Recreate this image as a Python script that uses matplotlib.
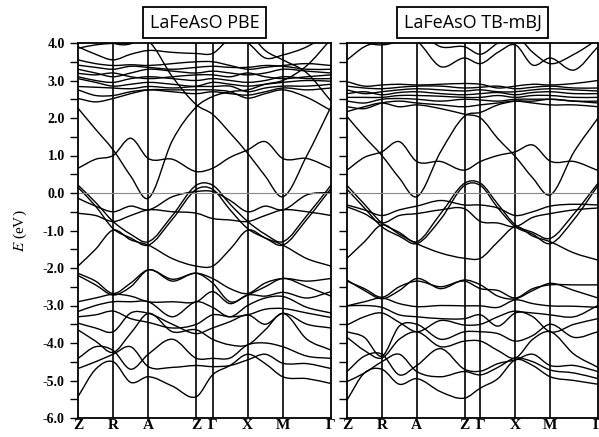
import numpy as np
import matplotlib
matplotlib.use("Agg")
import matplotlib.pyplot as plt
from matplotlib.path import Path
from matplotlib.patches import PathPatch
from matplotlib.ticker import MultipleLocator, FormatStrFormatter

plt.rcParams['font.family'] = ['Liberation Serif', 'DejaVu Serif']
plt.rcParams['mathtext.fontset'] = 'stix'

# high-symmetry path and sampled k positions (path distance units)
k_labels = ['Z', 'R', 'A', 'Z', 'Γ', 'X', 'M', 'Γ']
k_ticks = [0, 35, 70, 118, 134, 169, 204, 252]
k_pts = [0, 17.5, 35, 52.5, 70, 94, 118, 134, 151.5, 169, 186.5, 204, 228, 252]

#            Z     ZR    R     RA    A     AZ    Z     G     GX    X     XM    M     MG    G
pbe_bands = [
    [-5.43, -4.70, -4.50, -5.05, -4.90, -5.15, -5.43, -4.85, -4.60, -4.30, -4.55, -4.90, -4.95, -5.08],
    [-4.68, -4.50, -4.30, -4.10, -4.63, -4.65, -4.60, -4.63, -4.60, -4.45, -4.30, -4.54, -4.55, -4.68],
    [-4.41, -4.10, -4.20, -4.70, -4.30, -3.90, -4.41, -4.41, -4.40, -4.05, -4.00, -4.10, -4.35, -4.41],
    [-3.65, -3.95, -4.25, -3.74, -3.21, -3.70, -3.65, -3.90, -4.05, -4.05, -3.65, -3.21, -3.90, -4.19],
    [-3.47, -3.60, -3.70, -3.20, -3.21, -3.50, -3.75, -3.60, -3.43, -3.25, -3.50, -3.21, -3.50, -3.60],
    [-3.30, -3.25, -3.15, -3.35, -3.45, -3.60, -3.50, -3.25, -3.30, -3.25, -3.10, -3.08, -3.20, -3.32],
    [-3.16, -3.00, -2.90, -2.90, -2.90, -3.30, -2.90, -3.05, -3.30, -3.00, -2.80, -2.76, -3.05, -3.20],
    [-2.90, -2.80, -2.70, -2.75, -2.90, -2.90, -2.90, -2.63, -2.95, -2.72, -2.75, -2.65, -2.80, -2.63],
    [-2.20, -2.45, -2.72, -2.50, -2.05, -2.35, -2.14, -2.40, -2.90, -2.72, -2.50, -2.28, -2.50, -2.75],
    [-2.14, -2.35, -2.68, -2.40, -2.05, -2.30, -2.14, -2.28, -2.55, -2.68, -2.40, -2.28, -2.35, -2.28],
    [-1.95, -1.50, -0.99, -1.25, -1.39, -1.75, -1.95, -1.95, -1.50, -0.99, -1.20, -1.39, -1.75, -1.95],
    [-0.54, -0.60, -0.76, -0.60, -0.45, -0.50, -0.54, -0.68, -0.72, -0.76, -0.60, -0.45, -0.50, -0.60],
    [-0.14, -0.35, -0.50, -0.35, -0.45, -0.10, 0.04, 0.04, -0.20, -0.50, -0.35, -0.45, -0.05, 0.02],
    [0.15, -0.35, -0.95, -1.20, -1.39, -0.70, 0.10, 0.10, -0.45, -0.95, -1.20, -1.39, -0.70, 0.12],
    [0.21, -0.25, -0.76, -1.10, -1.30, -0.60, 0.21, 0.21, -0.30, -0.76, -1.10, -1.30, -0.60, 0.21],
    [0.66, 0.90, 1.00, 1.46, 0.92, 0.90, 0.57, 0.66, 0.95, 1.15, 1.37, 0.92, 0.92, 0.66],
    [2.26, 1.70, 1.15, 0.45, -0.14, 1.40, 2.30, 2.57, 2.70, 2.75, 2.90, 3.00, 3.40, 4.10],
    [3.86, 3.95, 3.99, 4.00, 4.05, 3.10, 2.35, 2.10, 1.60, 1.06, 0.45, -0.10, 1.00, 2.30],
    [2.52, 2.43, 2.52, 2.65, 2.75, 2.75, 2.75, 2.75, 2.70, 2.53, 2.65, 2.75, 2.55, 2.20],
    [2.75, 2.60, 2.60, 2.70, 2.75, 2.70, 2.65, 2.70, 2.65, 2.61, 2.70, 2.80, 2.75, 2.80],
    [2.84, 2.82, 2.80, 2.78, 2.84, 2.80, 2.84, 2.84, 2.85, 2.70, 2.80, 2.85, 2.85, 2.90],
    [3.05, 2.95, 2.85, 2.90, 2.95, 2.90, 2.85, 2.95, 2.90, 2.85, 2.90, 2.95, 3.00, 2.98],
    [3.10, 3.00, 2.95, 3.05, 3.10, 3.05, 3.00, 3.05, 3.00, 2.95, 3.00, 3.10, 3.05, 3.05],
    [3.19, 3.15, 3.20, 3.10, 3.05, 3.10, 3.15, 3.15, 3.10, 3.20, 3.10, 3.05, 3.10, 3.15],
    [3.30, 3.20, 3.10, 3.20, 3.30, 3.25, 3.20, 3.25, 3.20, 3.15, 3.20, 3.30, 3.25, 3.20],
    [3.41, 3.35, 3.30, 3.38, 3.35, 3.30, 3.35, 3.38, 3.35, 3.35, 3.40, 3.38, 3.30, 3.30],
    [3.55, 3.45, 3.40, 3.42, 3.40, 3.45, 3.50, 3.50, 3.40, 3.30, 3.35, 3.40, 3.45, 3.40],
    [3.90, 3.70, 3.55, 3.70, 3.80, 3.75, 3.72, 3.72, 4.10, 4.00, 3.60, 3.68, 3.90, 4.30],
    [4.05, 4.30, 4.00, 3.98, 4.30, 4.50, 4.30, 4.40, 4.50, 4.30, 3.80, 3.55, 3.20, 2.45],
]

mbj_bands = [
    [-5.52, -4.80, -4.70, -5.10, -4.95, -5.30, -5.47, -5.20, -4.95, -4.45, -4.60, -4.90, -5.00, -5.10],
    [-5.03, -4.80, -4.50, -4.30, -4.76, -4.90, -4.76, -4.85, -4.65, -4.40, -4.50, -4.72, -4.80, -4.95],
    [-4.76, -4.35, -4.30, -4.85, -4.60, -4.15, -4.70, -4.75, -4.55, -4.45, -4.30, -4.60, -4.60, -4.76],
    [-3.85, -4.20, -4.40, -3.90, -3.70, -4.10, -3.95, -3.95, -4.20, -4.40, -3.90, -3.70, -4.30, -4.65],
    [-3.70, -3.85, -4.35, -3.55, -3.50, -3.90, -3.70, -3.70, -3.75, -3.95, -3.80, -3.50, -3.85, -3.70],
    [-3.52, -3.30, -3.20, -3.45, -3.70, -3.40, -3.52, -3.50, -3.30, -3.15, -3.30, -3.70, -3.50, -3.35],
    [-3.01, -3.00, -3.05, -3.25, -3.30, -3.35, -3.35, -3.25, -3.55, -3.20, -3.20, -3.25, -3.30, -3.00],
    [-3.01, -2.90, -2.80, -2.95, -3.03, -3.00, -3.01, -3.01, -3.05, -2.85, -2.95, -3.01, -3.02, -3.05],
    [-2.32, -2.60, -2.82, -2.60, -2.28, -2.55, -2.32, -2.45, -2.75, -2.82, -2.60, -2.41, -2.60, -2.80],
    [-2.35, -2.55, -2.78, -2.50, -2.35, -2.50, -2.35, -2.55, -2.60, -2.80, -2.55, -2.45, -2.45, -2.45],
    [-1.74, -1.30, -0.85, -1.10, -1.35, -1.60, -1.74, -1.74, -1.30, -0.90, -1.15, -1.30, -1.60, -1.79],
    [-0.37, -0.55, -0.80, -0.60, -0.55, -0.45, -0.42, -0.76, -0.80, -0.90, -0.65, -0.55, -0.45, -0.40],
    [-0.32, -0.45, -0.60, -0.45, -0.35, -0.20, -0.32, -0.32, -0.40, -0.60, -0.50, -0.35, -0.30, -0.32],
    [0.10, -0.40, -0.90, -1.15, -1.35, -0.70, 0.20, 0.20, -0.40, -0.90, -1.10, -1.35, -0.70, 0.20],
    [0.20, -0.30, -0.80, -1.05, -1.30, -0.55, 0.26, 0.26, -0.30, -0.85, -1.05, -1.21, -0.55, 0.26],
    [0.61, 0.95, 1.10, 1.37, 0.84, 0.84, 0.61, 0.84, 1.00, 1.10, 1.28, 0.85, 0.84, 0.60],
    [2.04, 1.50, 1.00, 0.40, -0.10, 1.10, 2.05, 2.15, 2.35, 2.45, 2.45, 2.50, 2.45, 2.40],
    [3.55, 3.90, 4.05, 4.10, 4.05, 3.37, 3.60, 3.45, 3.75, 3.95, 3.41, 3.60, 3.28, 3.90],
    [2.17, 2.30, 2.40, 2.30, 2.35, 2.25, 2.10, 2.00, 1.45, 0.97, 0.40, -0.05, 1.10, 2.00],
    [2.30, 2.25, 2.40, 2.45, 2.40, 2.35, 2.30, 2.35, 2.40, 2.45, 2.40, 2.35, 2.35, 2.30],
    [2.45, 2.40, 2.50, 2.52, 2.50, 2.45, 2.50, 2.48, 2.45, 2.50, 2.50, 2.50, 2.45, 2.45],
    [2.55, 2.55, 2.55, 2.60, 2.60, 2.58, 2.55, 2.55, 2.60, 2.55, 2.60, 2.60, 2.55, 2.55],
    [2.65, 2.70, 2.62, 2.68, 2.70, 2.65, 2.62, 2.65, 2.68, 2.62, 2.68, 2.70, 2.65, 2.65],
    [2.75, 2.65, 2.70, 2.75, 2.78, 2.75, 2.72, 2.75, 2.70, 2.70, 2.75, 2.78, 2.75, 2.72],
    [2.85, 2.80, 2.78, 2.82, 2.85, 2.85, 2.80, 2.82, 2.85, 2.78, 2.82, 2.85, 2.80, 2.80],
    [2.97, 2.85, 2.88, 2.90, 2.88, 2.90, 2.92, 2.90, 2.80, 2.85, 2.90, 2.88, 2.92, 3.00],
    [4.05, 4.00, 3.95, 4.05, 4.30, 3.90, 3.90, 3.70, 4.00, 4.20, 3.75, 3.45, 3.70, 4.10],
]

titles = ['LaFeAsO PBE', 'LaFeAsO TB-mBJ']


def band_path(xs, ys):
    # smooth cubic Bezier through the read points (slopes from neighbours)
    xs = np.asarray(xs, float)
    ys = np.asarray(ys, float)
    sec = np.diff(ys) / np.diff(xs)
    slope = np.empty_like(ys)
    slope[0], slope[-1] = sec[0], sec[-1]
    slope[1:-1] = 0.5 * (sec[:-1] + sec[1:])
    verts = [(xs[0], ys[0])]
    codes = [Path.MOVETO]
    for i in range(len(xs) - 1):
        h = xs[i + 1] - xs[i]
        verts += [(xs[i] + h / 3, ys[i] + slope[i] * h / 3),
                  (xs[i + 1] - h / 3, ys[i + 1] - slope[i + 1] * h / 3),
                  (xs[i + 1], ys[i + 1])]
        codes += [Path.CURVE4] * 3
    return Path(verts, codes)


fig = plt.figure(figsize=(5.99, 4.37), dpi=100)
ax1 = fig.add_axes([78/599, 1-418/437, 253/599, 375/437])
ax2 = fig.add_axes([347/599, 1-418/437, 251/599, 375/437])

for ax, bands, title in zip([ax1, ax2], [pbe_bands, mbj_bands], titles):
    for b in bands:
        ax.add_patch(PathPatch(band_path(k_pts, b), fc='none', ec='black', lw=1.0))
    for kx in k_ticks[1:-1]:
        ax.axvline(kx, color='black', lw=1.2)
    ax.axhline(0, color='#888888', lw=0.8)
    ax.set_xlim(0, 252)
    ax.set_ylim(-6, 4)
    ax.set_xticks(k_ticks)
    ax.set_xticklabels(k_labels, fontsize=11, fontweight='bold')
    ax.tick_params(axis='x', length=0, pad=1)
    ax.yaxis.set_major_locator(MultipleLocator(1.0))
    ax.yaxis.set_minor_locator(MultipleLocator(0.5))
    ax.tick_params(axis='y', which='both', direction='out', length=6, width=1)
    for s in ax.spines.values():
        s.set_linewidth(1.3)
    ax.set_title(title, fontsize=13, family='Open Sans', pad=11,
                 bbox=dict(boxstyle='square,pad=0.35', fc='white', ec='black', lw=1.3))

ax1.yaxis.set_major_formatter(FormatStrFormatter('%.1f'))
for t in ax1.get_yticklabels():
    t.set_fontweight('bold')
    t.set_fontsize(10)
ax2.set_yticklabels([])
ax1.set_ylabel('$E$ (eV)', fontsize=11, labelpad=10)

fig.savefig('out.png', dpi=100)
